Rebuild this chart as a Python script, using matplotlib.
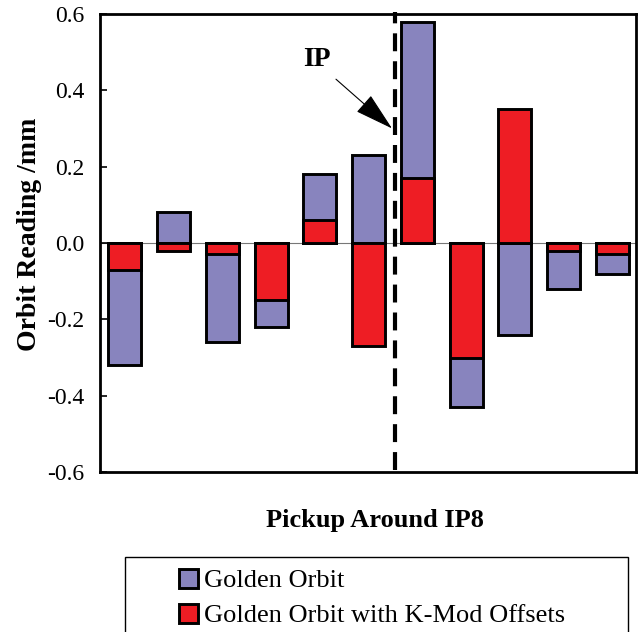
import matplotlib.pyplot as plt
import numpy as np
from matplotlib.patches import Rectangle

plt.rcParams["font.family"] = ["Liberation Serif", "DejaVu Serif"]

# orbit readings per pickup (mm)
pickups = np.arange(11)
golden = [-0.32, 0.08, -0.26, -0.22, 0.18, 0.23, 0.58, -0.43, -0.24, -0.12, -0.08]
kmod = [-0.07, -0.02, -0.03, -0.15, 0.06, -0.27, 0.17, -0.30, 0.35, -0.02, -0.03]
yticks = [-0.6, -0.4, -0.2, 0.0, 0.2, 0.4, 0.6]
ip_pos = 5.55

purple = "#8884be"
red = "#ee1d24"

fig = plt.figure(figsize=(6.39, 6.32), dpi=100)
ax = fig.add_axes([0.1565, 0.253, 0.8385, 0.725])

ax.axhline(0, color="#777777", linewidth=0.8, zorder=1)
ax.bar(pickups, golden, width=0.68, color=purple, edgecolor="black", linewidth=2.1,
       label="Golden Orbit", zorder=2)
ax.bar(pickups, kmod, width=0.68, color=red, edgecolor="black", linewidth=2.1,
       label="Golden Orbit with K-Mod Offsets", zorder=3)

ax.axvline(ip_pos, ymin=0.005, ymax=1.005, color="black", linewidth=3,
           dashes=(4.3, 2.4), clip_on=False, zorder=4)
ax.text(3.94, 0.48, "IP", fontsize=20, fontweight="bold", ha="center", va="center")
ax.annotate("", xy=(5.48, 0.30), xytext=(4.33, 0.429),
            arrowprops=dict(arrowstyle="-|>,head_length=2.5,head_width=0.7",
                            mutation_scale=10, color="black", linewidth=0.8,
                            shrinkA=0, shrinkB=0))

ax.set_xlim(-0.51, 10.48)
ax.set_ylim(-0.6, 0.6)
ax.set_yticks(yticks)
ax.set_yticklabels([f"{t:.1f}" for t in yticks])
ax.tick_params(axis="y", direction="in", length=5, width=1.2, pad=11, labelsize=17)
ax.set_xticks([])
for sp in ax.spines.values():
    sp.set_linewidth(2)

ax.set_ylabel("Orbit Reading /mm", fontsize=20, fontweight="bold")
ax.yaxis.set_label_coords(-0.108, 0.52)
ax.set_xlabel("Pickup Around IP8", fontsize=19, fontweight="bold")
ax.xaxis.set_label_coords(0.513, -0.08)

# legend box (extends below the figure edge)
fig.patches.append(Rectangle((125 / 639, -0.05), (628 - 125) / 639, 0.05 + 1 - 557 / 632,
                             transform=fig.transFigure, facecolor="white",
                             edgecolor="black", linewidth=1, zorder=0))
handles, labels = ax.get_legend_handles_labels()
fig.legend(handles, labels, loc="upper left", bbox_to_anchor=(168 / 639, 1 - 558 / 632),
           frameon=False, fontsize=19, handlelength=0.75, handleheight=0.75,
           handletextpad=0.2, labelspacing=0.42, borderaxespad=0)

fig.savefig("out.png", dpi=100)
